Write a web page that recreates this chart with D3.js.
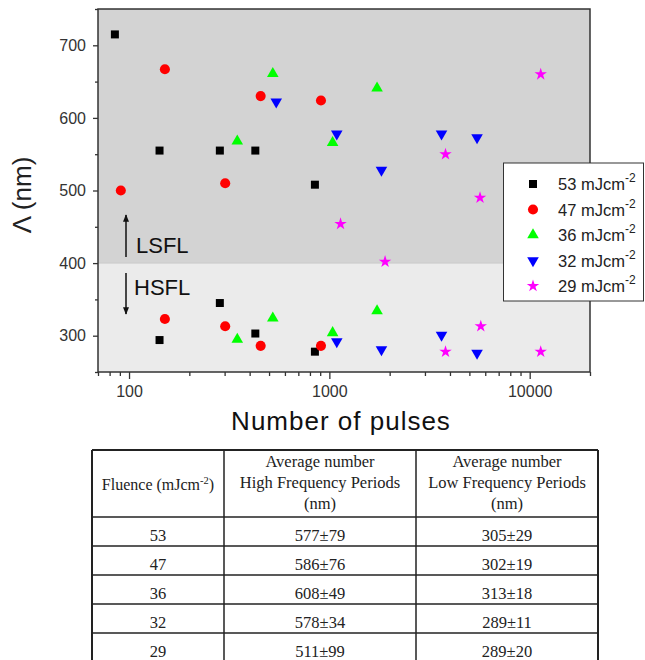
<!DOCTYPE html>
<html>
<head>
<meta charset="utf-8">
<script src="https://cdn.jsdelivr.net/npm/d3@7"></script>
<style>
  html, body { margin: 0; padding: 0; background: #fff; }
  svg { display: block; }
</style>
</head>
<body>
<svg id="chart" width="645" height="660"></svg>
<script>
// ---------- DATA ----------
const fluences = ["53", "47", "36", "32", "29"];
const colors = ["#000000", "#ff0000", "#00ff00", "#0000ff", "#ff00ff"];

const pulses53 = [85, 142, 284, 427, 847, 142, 284, 427, 847];
const lambda53 = [715, 555, 555, 555, 508, 294, 345, 303, 278];
const pulses47 = [91, 151, 302, 454, 908, 151, 302, 454, 908];
const lambda47 = [500, 667, 510, 630, 624, 323, 313, 286, 286];
const pulses36 = [347, 522, 1038, 1730, 347, 522, 1038, 1730];
const lambda36 = [568, 661, 566, 641, 295, 324, 304, 334];
const pulses32 = [543, 1089, 1820, 3630, 5460, 1089, 1820, 3630, 5460];
const lambda32 = [622, 578, 528, 578, 573, 292, 281, 301, 276];
const pulses29 = [1137, 1897, 3800, 5650, 11350, 3800, 5700, 11350];
const lambda29 = [454, 402, 550, 490, 660, 278, 313, 278];

const yTicks = [300, 400, 500, 600, 700];
const yMinorTicks = [250, 350, 450, 550, 650, 750];
const xTicks = [100, 1000, 10000];
const xMinorTicks = [70, 80, 90, 200, 300, 400, 500, 600, 700, 800, 900,
                     2000, 3000, 4000, 5000, 6000, 7000, 8000, 9000, 20000];

const tableFluence = ["53", "47", "36", "32", "29"];
const tableHigh = ["577±79", "586±76", "608±49", "578±34", "511±99"];
const tableLow = ["305±29", "302±19", "313±18", "289±11", "289±20"];

// ---------- LAYOUT ----------
const svg = d3.select("#chart");
const L = 98, R = 590, T = 9, B = 372;
const x = d3.scaleLog().domain([70, 20000]).range([L, R]);
const y = d3.scaleLinear().domain([250, 750]).range([B, T]);
const sans = "'Liberation Sans', Arial, sans-serif";
const serif = "'Liberation Serif', 'Times New Roman', serif";
const axisColor = "#333";

// Backgrounds
svg.append("rect").attr("x", L).attr("y", y(750)).attr("width", R - L)
  .attr("height", y(400) - y(750)).attr("fill", "#d3d3d3");
svg.append("rect").attr("x", L).attr("y", y(400)).attr("width", R - L)
  .attr("height", y(250) - y(400)).attr("fill", "#ebebeb");
svg.append("line").attr("x1", L).attr("x2", R).attr("y1", y(400)).attr("y2", y(400))
  .attr("stroke", "#c9c9c9").attr("stroke-width", 1);

// Axes
function styleAxis(g) {
  g.select(".domain").remove();
  g.selectAll(".tick line").attr("stroke", axisColor).attr("stroke-width", 1.3);
  g.selectAll(".tick text").attr("fill", axisColor).attr("font-family", sans).attr("font-size", 16);
}
svg.append("g").attr("transform", `translate(${L},0)`)
  .call(d3.axisLeft(y).tickValues(yTicks).tickSize(5).tickPadding(7).tickFormat(d3.format("d")))
  .call(styleAxis);
svg.append("g").attr("transform", `translate(${L},0)`)
  .call(d3.axisLeft(y).tickValues(yMinorTicks).tickSize(3).tickFormat(""))
  .call(styleAxis);
svg.append("g").attr("transform", `translate(0,${B})`)
  .call(d3.axisBottom(x).tickValues(xTicks).tickSize(7).tickPadding(7).tickFormat(d3.format("d")))
  .call(styleAxis);
svg.append("g").attr("transform", `translate(0,${B})`)
  .call(d3.axisBottom(x).tickValues(xMinorTicks).tickSize(4).tickFormat(""))
  .call(styleAxis);

// Frame
svg.append("rect").attr("x", L).attr("y", T).attr("width", R - L).attr("height", B - T)
  .attr("fill", "none").attr("stroke", axisColor).attr("stroke-width", 1.5);

// Axis labels
svg.append("text").attr("transform", "translate(31,195) rotate(-90)")
  .attr("text-anchor", "middle").attr("font-family", sans).attr("font-size", 26)
  .attr("fill", "#222").text("Λ (nm)");
svg.append("text").attr("x", 341).attr("y", 430).attr("text-anchor", "middle")
  .attr("font-family", sans).attr("font-size", 26).attr("letter-spacing", 1)
  .attr("fill", "#111").text("Number of pulses");

// LSFL / HSFL annotations
const defs = svg.append("defs");
defs.append("marker").attr("id", "arrow").attr("viewBox", "0 0 10 10")
  .attr("refX", 9).attr("refY", 5).attr("markerWidth", 5).attr("markerHeight", 5)
  .attr("orient", "auto")
  .append("path").attr("d", "M0,1 L10,5 L0,9 Z").attr("fill", "#111");
svg.append("line").attr("x1", 126).attr("x2", 126).attr("y1", 257).attr("y2", 215)
  .attr("stroke", "#111").attr("stroke-width", 1.5).attr("marker-end", "url(#arrow)");
svg.append("line").attr("x1", 126).attr("x2", 126).attr("y1", 273).attr("y2", 314)
  .attr("stroke", "#111").attr("stroke-width", 1.5).attr("marker-end", "url(#arrow)");
svg.append("text").attr("x", 136).attr("y", 253).attr("font-family", sans)
  .attr("font-size", 22).attr("fill", "#111").text("LSFL");
svg.append("text").attr("x", 134).attr("y", 295).attr("font-family", sans)
  .attr("font-size", 22).attr("fill", "#111").text("HSFL");

// Series
const symbolTypes = [d3.symbolSquare, d3.symbolCircle, d3.symbolTriangle, d3.symbolTriangle, d3.symbolStar];
const symbolSizes = [64, 80, 58, 58, 48];
const rotations = [0, 0, 0, 180, 0];
const seriesX = [pulses53, pulses47, pulses36, pulses32, pulses29];
const seriesY = [lambda53, lambda47, lambda36, lambda32, lambda29];

seriesX.forEach((xs, i) => {
  const pts = xs.map((v, j) => ({ n: v, l: seriesY[i][j] }));
  const sym = d3.symbol().type(symbolTypes[i]).size(symbolSizes[i]);
  svg.append("g").selectAll("path").data(pts).join("path")
    .attr("d", sym)
    .attr("transform", d => `translate(${x(d.n)},${y(d.l)}) rotate(${rotations[i]})`)
    .attr("fill", colors[i]);
});

// Legend
const lg = svg.append("g");
lg.append("rect").attr("x", 503.5).attr("y", 163).attr("width", 140).attr("height", 138)
  .attr("fill", "#fff").attr("stroke", "#333").attr("stroke-width", 1);
fluences.forEach((f, i) => {
  const cy = 184 + i * 25.5;
  const sym = d3.symbol().type(symbolTypes[i]).size(symbolSizes[i]);
  lg.append("path").attr("d", sym)
    .attr("transform", `translate(533,${cy}) rotate(${rotations[i]})`)
    .attr("fill", colors[i]);
  const t = lg.append("text").attr("x", 558).attr("y", cy + 6)
    .attr("font-family", sans).attr("font-size", 16.5).attr("fill", "#222");
  t.append("tspan").text(f + " mJcm");
  t.append("tspan").attr("dy", -8).attr("font-size", 12).text("-2");
});

// Table
const colX = [92, 224, 416, 598];
const rowY = [450, 517, 546, 575, 604, 633, 662];
const tg = svg.append("g");
colX.forEach((cx, i) => {
  tg.append("line").attr("x1", cx).attr("x2", cx).attr("y1", rowY[0]).attr("y2", 662)
    .attr("stroke", "#222").attr("stroke-width", (i === 0 || i === 3) ? 2 : 1.5);
});
rowY.forEach((ry, i) => {
  tg.append("line").attr("x1", colX[0]).attr("x2", colX[3]).attr("y1", ry).attr("y2", ry)
    .attr("stroke", "#222").attr("stroke-width", i === 0 ? 2 : 1.5);
});
const colC = [(colX[0] + colX[1]) / 2, (colX[1] + colX[2]) / 2, (colX[2] + colX[3]) / 2];
const h1 = tg.append("text").attr("x", colC[0]).attr("y", 490).attr("text-anchor", "middle")
  .attr("font-family", serif).attr("font-size", 16).attr("fill", "#222");
h1.append("tspan").text("Fluence (mJcm");
h1.append("tspan").attr("dy", -6).attr("font-size", 10.5).text("-2");
h1.append("tspan").attr("dy", 6).text(")");
[["Average number", "High Frequency Periods", "(nm)"],
 ["Average number", "Low Frequency Periods", "(nm)"]].forEach((lines, k) => {
  lines.forEach((ln, j) => {
    tg.append("text").attr("x", colC[k + 1]).attr("y", 467 + j * 21)
      .attr("text-anchor", "middle").attr("font-family", serif).attr("font-size", 16.5)
      .attr("fill", "#222").text(ln);
  });
});
[tableFluence, tableHigh, tableLow].forEach((col, k) => {
  col.forEach((v, r) => {
    tg.append("text").attr("x", colC[k]).attr("y", rowY[r + 1] + 23.5)
      .attr("text-anchor", "middle").attr("font-family", serif).attr("font-size", 16.5)
      .attr("fill", "#222").text(v);
  });
});
</script>
</body>
</html>
